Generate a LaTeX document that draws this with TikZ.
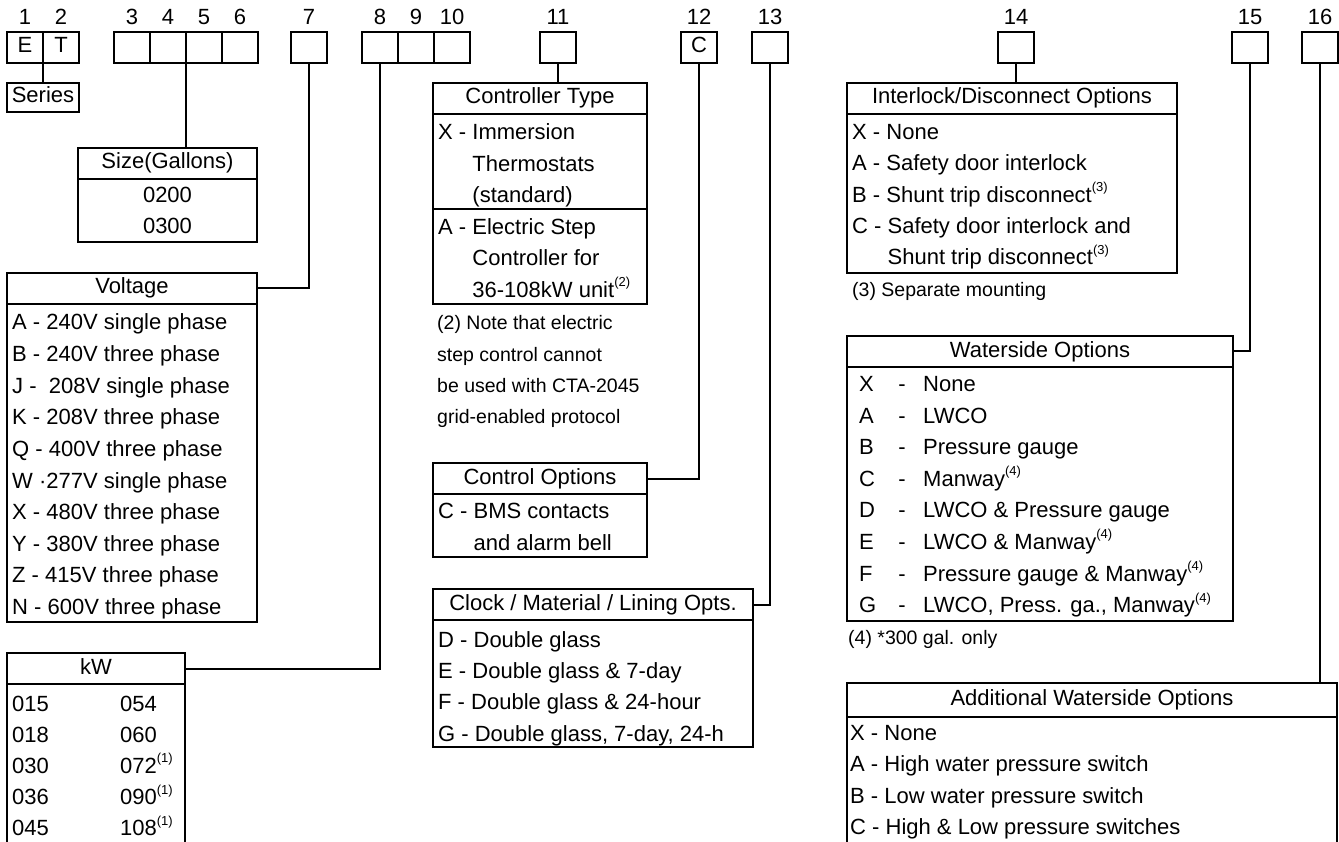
\documentclass[tikz,border=0pt]{standalone}
\usepackage{fontspec}
\setmainfont{Liberation Sans}
\usepackage{tikz}
\usetikzlibrary{positioning}
\usetikzlibrary{calc}

\newcommand{\supn}[1]{\raisebox{0.48em}{\fontsize{13}{13}\selectfont(#1)}}

\tikzset{
    cell/.style={draw, line width=2pt, minimum width=36pt, minimum height=31pt, inner sep=0pt, outer sep=0pt, text height=15.5pt, text depth=4.5pt, anchor=north west},
    digit/.style={inner sep=0pt, anchor=base},
    head/.style={draw, line width=2pt, minimum height=31pt, inner sep=0pt, outer sep=0pt, text height=15.5pt, text depth=4.5pt, anchor=north west},
    body/.style={draw, line width=2pt, inner sep=0pt, outer sep=0pt, anchor=north west},
    item/.style={inner sep=0pt, anchor=base west},
    remark/.style={inner sep=0pt, anchor=base west, font=\fontsize{19.5}{23}\selectfont},
    link/.style={line width=2pt},
}

\begin{document}
\begin{tikzpicture}[x=1pt, y=-1pt, font=\fontsize{22}{26}\selectfont]
    \useasboundingbox (0,0) rectangle (1339,842);
    % Model number boxes with the position numbers above them
    \foreach \n/\x/\t in {1/7/E, 2/43/T, 3/114/{}, 4/150/{}, 5/186/{}, 6/222/{}, 7/291/{}, 8/362/{}, 9/398/{}, 10/434/{}, 11/540/{}, 12/681/C, 13/752/{}, 14/998/{}, 15/1232/{}, 16/1302/{}} {
        \node (c\n) [cell] at (\x, 32) {\t};
        \node (n\n) [digit] at ($(c\n.north) + (0, -7)$) {\n};
    }

    % Series
    \node (ser) [head, minimum width=72pt, minimum height=29pt] at (7, 83) {Series};
    \draw[link] (c1.south east) -- (ser.north);

    % Size
    \node (sizH) [head, minimum width=179pt] at (78, 148) {Size(Gallons)};
    \node (sizB) [body, minimum width=179pt, minimum height=63pt] at (sizH.south west) {};
    \node (siz1) [digit] at ($(sizH.south) + (0, 24)$) {0200};
    \node (siz2) [digit] at ($(sizH.south) + (0, 55)$) {0300};
    \draw[link] (c4.south east) -- (c4.south east |- sizH.north);

    % Voltage
    \node (volH) [head, minimum width=250pt] at (7, 273) {Voltage};
    \node (volB) [body, minimum width=250pt, minimum height=318pt] at (volH.south west) {};
    \foreach \t [count=\i] in {A - 240V single phase, B - 240V three phase, J -~ 208V single phase, K - 208V three phase, Q - 400V three phase, W ·277V single phase, X - 480V three phase, Y - 380V three phase, Z - 415V three phase, N - 600V three phase}
        \node (vol\i) [item] at (12, {330 + 31.6*(\i-1)}) {\t};
    \draw[link] (c7.south) |- (volH.east);

    % kW
    \node (kwH) [head, minimum width=178pt] at (7, 653) {kW};
    \node (kwB) [body, minimum width=178pt, minimum height=200pt] at (kwH.south west) {};
    \foreach \a/\b [count=\i] in {015/054, 018/060, 030/072\supn{1}, 036/090\supn{1}, 045/108\supn{1}} {
        \node (kwa\i) [item] at (12, {711 + 31.2*(\i-1)}) {\a};
        \node (kwb\i) [item] at (120, {711 + 31.2*(\i-1)}) {\b};
    }
    \draw[link] (c8.south) |- (kwH.east);

    % Controller type
    \node (ctlH) [head, minimum width=214pt] at (433, 83) {Controller Type};
    \node (ctlX) [body, minimum width=214pt, minimum height=95pt] at (ctlH.south west) {};
    \node (ctlA) [body, minimum width=214pt, minimum height=95pt] at (ctlX.south west) {};
    \foreach \t [count=\i] in {X - Immersion, \phantom{X - }Thermostats, \phantom{X - }(standard), A - Electric Step, \phantom{X - }Controller for, \phantom{X - }36-108kW unit\supn{2}}
        \node (ctl\i) [item] at (438, {139.5 + 31.6*(\i-1)}) {\t};
    \draw[link] (c11.south) -- (c11.south |- ctlH.north);
    \foreach \t [count=\i] in {(2) Note that electric, step control cannot, be used with CTA-2045, grid-enabled protocol}
        \node (ntb\i) [remark] at (437, {330 + 31.3*(\i-1)}) {\t};

    % Control options
    \node (optH) [head, minimum width=214pt] at (433, 463) {Control Options};
    \node (optB) [body, minimum width=214pt, minimum height=63pt] at (optH.south west) {};
    \node (opt1) [item] at (438, 518.5) {C - BMS contacts};
    \node (opt2) [item] at (438, 550.5) {\phantom{C - }and alarm bell};
    \draw[link] (c12.south) |- (optH.east);

    % Clock / material / lining
    \node (clkH) [head, minimum width=320pt] at (433, 589) {Clock / Material / Lining Opts.};
    \node (clkB) [body, minimum width=320pt, minimum height=127pt] at (clkH.south west) {};
    \foreach \t [count=\i] in {D - Double glass, E - Double glass \& 7-day, F - Double glass \& 24-hour, {G - Double glass, 7-day, 24-h}}
        \node (clk\i) [item] at (438, {647.5 + 31.2*(\i-1)}) {\t};
    \draw[link] (c13.south) |- (clkH.east);

    % Interlock / disconnect
    \node (ilkH) [head, minimum width=330pt] at (847, 83) {Interlock/Disconnect Options};
    \node (ilkB) [body, minimum width=330pt, minimum height=159pt] at (ilkH.south west) {};
    \foreach \t [count=\i] in {X - None, A - Safety door interlock, B - Shunt trip disconnect\supn{3}, C - Safety door interlock and, \phantom{C - }Shunt trip disconnect\supn{3}}
        \node (ilk\i) [item] at (852, {139.5 + 31.3*(\i-1)}) {\t};
    \node (ntc) [remark] at (852, 296.5) {(3) Separate mounting};
    \draw[link] (c14.south) -- (c14.south |- ilkH.north);

    % Waterside
    \node (watH) [head, minimum width=386pt] at (847, 336) {Waterside Options};
    \node (watB) [body, minimum width=386pt, minimum height=254pt] at (watH.south west) {};
    \foreach \l/\t [count=\i] in {X/None, A/LWCO, B/Pressure gauge, C/Manway\supn{4}, D/LWCO \& Pressure gauge, E/LWCO \& Manway\supn{4}, F/Pressure gauge \& Manway\supn{4}, G/{LWCO, Press. ga., Manway\supn{4}}} {
        \node (watL\i) [item] at (859, {391.5 + 31.6*(\i-1)}) {\l};
        \node (watD\i) [digit] at (902, {391.5 + 31.6*(\i-1)}) {-};
        \node (watT\i) [item] at (923, {391.5 + 31.6*(\i-1)}) {\t};
    }
    \node (ntd) [remark] at (848, 644.5) {(4) *300 gal. only};
    \draw[link] (c15.south) |- (watH.east);

    % Additional waterside
    \node (addH) [head, minimum width=490pt, minimum height=34pt] at (847, 683) {Additional Waterside Options};
    \node (addB) [body, minimum width=490pt, minimum height=160pt] at (addH.south west) {};
    \foreach \t [count=\i] in {X - None, A - High water pressure switch, B - Low water pressure switch, C - High \& Low pressure switches}
        \node (add\i) [item] at (850, {740.5 + 31.4*(\i-1)}) {\t};
    \draw[link] (c16.south) -- (c16.south |- addH.north);
\end{tikzpicture}
\end{document}
